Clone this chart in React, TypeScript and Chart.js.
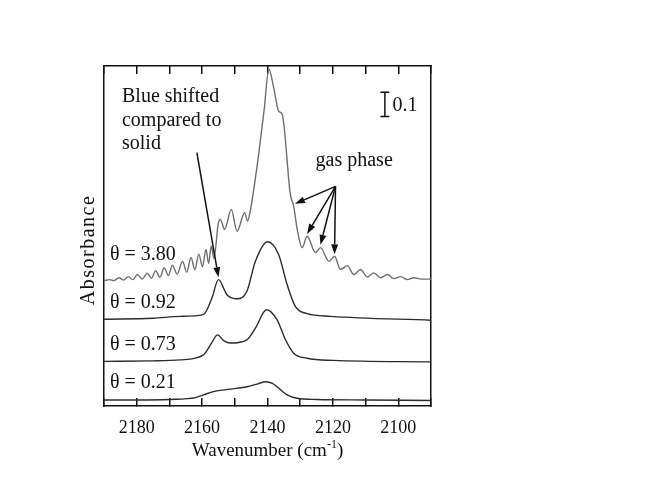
import React, { useEffect, useRef } from 'react';
import { Chart, registerables } from 'chart.js';

Chart.register(...registerables);

// wavenumber (cm-1) points of each spectrum, and absorbance above its own baseline
const wn380 = [
  2190, 2188.3, 2187, 2185.4, 2184, 2182.6, 2181.2, 2179.8, 2178.3, 2176.8, 2175.5, 2174.2,
  2172.9, 2171.6, 2170.3, 2169.1, 2167.6, 2166.0, 2164.7, 2163.4, 2162.2, 2161.0, 2159.9,
  2158.8, 2158.0, 2157.2, 2156.4, 2155.0, 2154.4, 2153.1, 2151.1, 2149.3, 2147.0, 2146.1,
  2145.3, 2144.2, 2142.7, 2141.0, 2139.6, 2138.1, 2136.6, 2135.5, 2133.0, 2132.0, 2130.9,
  2129.4, 2127.9, 2125.3, 2123.8, 2121.2, 2119.5, 2117.7, 2115.6, 2113.6, 2111.5, 2109.5,
  2107.5, 2105.4, 2103.3, 2101.4, 2099.3, 2097.2, 2095.2, 2093, 2090,
];
const abs380 = [
  -0.004, 0, -0.004, 0.008, -0.002, 0.0125, 0, 0.021, 0.002, 0.027, 0.006, 0.0375,
  0.01, 0.048, 0.017, 0.06, 0.023, 0.077, 0.031, 0.092, 0.042, 0.106, 0.054,
  0.125, 0.067, 0.14, 0.0875, 0.2375, 0.25, 0.208, 0.292, 0.201, 0.278, 0.243,
  0.283, 0.375, 0.52, 0.708, 0.875, 0.797, 0.7, 0.686, 0.353, 0.305, 0.208,
  0.133, 0.18, 0.1125, 0.133, 0.076, 0.097, 0.042, 0.058, 0.021, 0.042, 0.011,
  0.028, 0.008, 0.021, 0.004, 0.0125, 0, 0.008, 0.002, 0.002,
];

const wn092 = [2190, 2175, 2166.7, 2159.6, 2157.0, 2155.0, 2152.4, 2149.3, 2146.3, 2143.7, 2140, 2136.6, 2134, 2131.5, 2127.9, 2120.7, 2090];
const abs092 = [-0.002, 0.002, 0.01, 0.017, 0.086, 0.1625, 0.1, 0.083, 0.114, 0.239, 0.32, 0.267, 0.142, 0.051, 0.021, 0.01, -0.006];

const wn073 = [2190, 2175, 2166.7, 2159.6, 2157.1, 2155.3, 2153.3, 2151.4, 2146.3, 2143.7, 2140.3, 2137.1, 2134.5, 2132, 2127.9, 2120, 2090];
const abs073 = [-0.002, 0, 0.004, 0.025, 0.074, 0.108, 0.083, 0.074, 0.0875, 0.136, 0.2125, 0.171, 0.0875, 0.032, 0.011, 0.002, -0.004];

const wn021 = [2190, 2180, 2170, 2162, 2159.6, 2156.5, 2151.4, 2146.3, 2143, 2140.5, 2138.5, 2137.1, 2134, 2130.9, 2125, 2110, 2090];
const abs021 = [0, 0, 0.002, 0.01, 0.021, 0.035, 0.045, 0.055, 0.067, 0.076, 0.069, 0.055, 0.021, 0.007, 0.002, 0, -0.002];

const coverages = ['3.80', '0.92', '0.73', '0.21'];
const offsets = [0.525, 0.3625, 0.1875, 0.025];
const labelY = [0.629, 0.429, 0.254, 0.096];
const traceColors = ['#6e6e6e', '#2b2b2b', '#2b2b2b', '#2b2b2b'];
const xTickLabels = [2180, 2160, 2140, 2120, 2100];

const blueLines = ['Blue shifted', 'compared to', 'solid'];
const blueLineY = [1.283, 1.185, 1.0875];
const blueFrom = [2161.6, 1.053];
const blueTip = [2155.0, 0.535];
const gasFrom = [2119.2, 0.9125];
const gasTips = [[2131.6, 0.84], [2127.9, 0.715], [2123.8, 0.67], [2119.5, 0.63]];

const serif = '"Liberation Serif", "DejaVu Serif", serif';

function arrow(ctx: CanvasRenderingContext2D, x1: number, y1: number, x2: number, y2: number) {
  const a = Math.atan2(y2 - y1, x2 - x1);
  const len = 10;
  const half = 3.5;
  const bx = x2 - len * Math.cos(a);
  const by = y2 - len * Math.sin(a);
  ctx.beginPath();
  ctx.moveTo(x1, y1);
  ctx.lineTo(bx, by);
  ctx.stroke();
  ctx.beginPath();
  ctx.moveTo(x2, y2);
  ctx.lineTo(bx + half * Math.sin(a), by - half * Math.cos(a));
  ctx.lineTo(bx - half * Math.sin(a), by + half * Math.cos(a));
  ctx.closePath();
  ctx.fill();
}

const notes = {
  id: 'notes',
  afterDraw(chart: any) {
    const { ctx, chartArea, scales } = chart;
    const px = (v: number) => scales.x.getPixelForValue(v);
    const py = (v: number) => scales.y.getPixelForValue(v);
    ctx.save();
    ctx.fillStyle = '#111';
    ctx.strokeStyle = '#111';
    ctx.lineWidth = 1.5;
    ctx.font = `20px ${serif}`;
    ctx.textAlign = 'left';
    ctx.textBaseline = 'middle';

    coverages.forEach((c, i) => ctx.fillText(`θ = ${c}`, px(2188.2), py(labelY[i])));
    blueLines.forEach((t, i) => ctx.fillText(t, px(2184.5), py(blueLineY[i])));
    ctx.fillText('gas phase', px(2125.3), py(1.017));
    ctx.fillText('0.1', px(2101.8), py(1.247));

    arrow(ctx, px(blueFrom[0]), py(blueFrom[1]), px(blueTip[0]), py(blueTip[1]));
    gasTips.forEach(([w, a]) => arrow(ctx, px(gasFrom[0]), py(gasFrom[1]), px(w), py(a)));

    // 0.1 absorbance scale bar
    const bx = px(2104.1);
    const t = py(1.303);
    const b = py(1.203);
    ctx.beginPath();
    ctx.moveTo(bx, t); ctx.lineTo(bx, b);
    ctx.moveTo(bx - 4.5, t); ctx.lineTo(bx + 4.5, t);
    ctx.moveTo(bx - 4.5, b); ctx.lineTo(bx + 4.5, b);
    ctx.stroke();

    // axis titles
    const main = 'Wavenumber (cm';
    ctx.font = `19px ${serif}`;
    const w1 = ctx.measureText(main).width;
    const w3 = ctx.measureText(')').width;
    ctx.font = `12px ${serif}`;
    const w2 = ctx.measureText('-1').width;
    const x0 = (chartArea.left + chartArea.right) / 2 - (w1 + w2 + w3) / 2;
    ctx.textBaseline = 'alphabetic';
    ctx.font = `19px ${serif}`;
    ctx.fillText(main, x0, 456);
    ctx.fillText(')', x0 + w1 + w2, 456);
    ctx.font = `12px ${serif}`;
    ctx.fillText('-1', x0 + w1, 448);

    ctx.translate(chartArea.left - 15, 250);
    ctx.rotate(-Math.PI / 2);
    ctx.font = `20px ${serif}`;
    (ctx as any).letterSpacing = '1.5px';
    ctx.textAlign = 'center';
    ctx.textBaseline = 'middle';
    ctx.fillText('Absorbance', 0, 0);
    ctx.restore();
  },
};

const spectra = [
  { wn: wn380, abs: abs380 },
  { wn: wn092, abs: abs092 },
  { wn: wn073, abs: abs073 },
  { wn: wn021, abs: abs021 },
];

export default function App() {
  const canvasRef = useRef<HTMLCanvasElement>(null);

  useEffect(() => {
    if (!canvasRef.current) return;
    const frame = { display: true, color: '#111', width: 1.5 };
    const chart = new Chart(canvasRef.current, {
      type: 'line',
      data: {
        datasets: spectra.map((s, i) => ({
          label: coverages[i],
          data: s.wn.map((w, j) => ({ x: w, y: offsets[i] + s.abs[j] })),
          borderColor: traceColors[i],
          borderWidth: 1.4,
          pointRadius: 0,
          fill: false,
          cubicInterpolationMode: 'monotone' as const,
        })),
      },
      options: {
        animation: false,
        responsive: true,
        maintainAspectRatio: false,
        layout: { padding: { left: 104, right: 238, top: 66, bottom: 0 } },
        plugins: { legend: { display: false }, tooltip: { enabled: false } },
        scales: {
          x: {
            type: 'linear',
            position: 'bottom',
            min: 2090,
            max: 2190,
            reverse: true,
            border: frame,
            grid: { drawOnChartArea: false, drawTicks: true, tickLength: -8, color: '#111', lineWidth: 1.5 },
            ticks: {
              stepSize: 10,
              padding: 19,
              color: '#111',
              font: { family: serif, size: 18 },
              maxRotation: 0,
              autoSkip: false,
              callback: (v: any) => (xTickLabels.includes(Number(v)) ? String(v) : ''),
            },
            afterFit: (s: any) => { s.height = 73; },
          },
          x2: {
            type: 'linear',
            position: 'top',
            min: 2090,
            max: 2190,
            reverse: true,
            border: frame,
            grid: { drawOnChartArea: false, drawTicks: true, tickLength: -8, color: '#111', lineWidth: 1.5 },
            ticks: { stepSize: 10, autoSkip: false, callback: () => '' },
            afterFit: (s: any) => { s.height = 0; },
          },
          y: {
            type: 'linear',
            position: 'left',
            min: 0,
            max: 1.4125,
            border: frame,
            grid: { display: false },
            ticks: { display: false },
            afterFit: (s: any) => { s.width = 0; },
          },
          y2: {
            type: 'linear',
            position: 'right',
            min: 0,
            max: 1.4125,
            border: frame,
            grid: { display: false },
            ticks: { display: false },
            afterFit: (s: any) => { s.width = 0; },
          },
        },
      },
      plugins: [notes],
    });
    return () => chart.destroy();
  }, []);

  return (
    <div style={{ position: 'absolute', left: 0, top: 0, width: 669, height: 479, background: '#fff' }}>
      <canvas ref={canvasRef} />
    </div>
  );
}
